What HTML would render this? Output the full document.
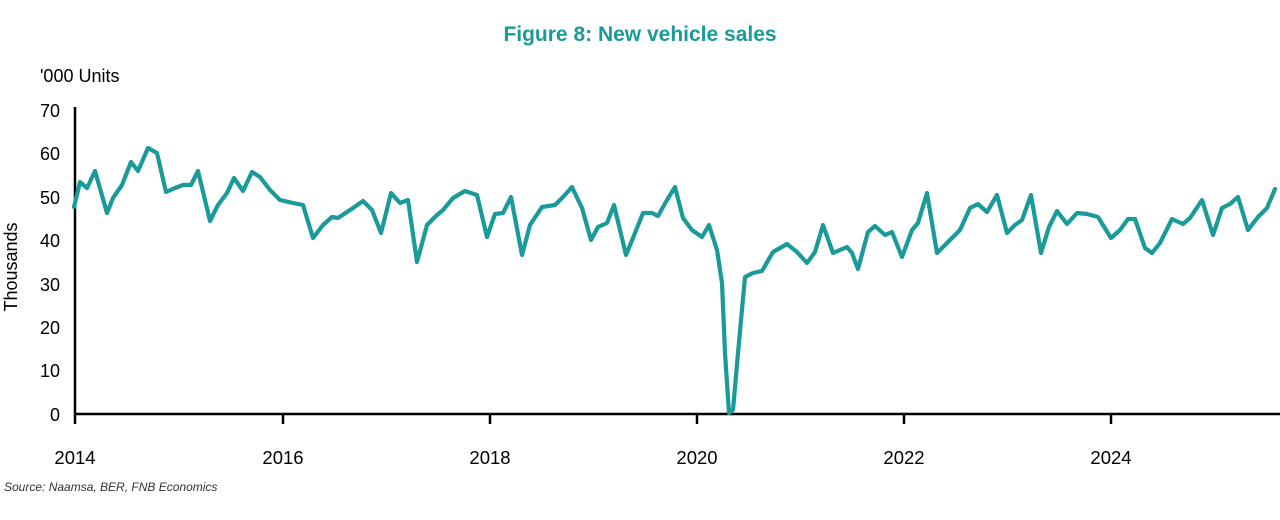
<!DOCTYPE html>
<html><head><meta charset="utf-8"><style>
html,body{margin:0;padding:0;background:#fff;width:1280px;height:520px;overflow:hidden}
text{font-family:"Liberation Sans",sans-serif}
</style></head><body>
<svg width="1280" height="520" viewBox="0 0 1280 520">
<text x="640" y="41" text-anchor="middle" font-size="21" font-weight="bold" fill="#1a9a98">Figure 8: New vehicle sales</text>
<text x="40" y="82" font-size="18" fill="#000">'000 Units</text>
<text transform="translate(17,267) rotate(-90)" text-anchor="middle" font-size="18" fill="#000">Thousands</text>
<g font-size="18" fill="#000" text-anchor="end">
<text x="60" y="421">0</text><text x="60" y="377">10</text><text x="60" y="334">20</text><text x="60" y="291">30</text><text x="60" y="247">40</text><text x="60" y="204">50</text><text x="60" y="160">60</text><text x="60" y="117">70</text>
</g>
<g font-size="18.5" fill="#000" text-anchor="middle">
<text x="75" y="464">2014</text><text x="283" y="464">2016</text><text x="490" y="464">2018</text><text x="697" y="464">2020</text><text x="904" y="464">2022</text><text x="1111" y="464">2024</text>
</g>
<g stroke="#000" stroke-width="2.5" fill="none">
<line x1="75" y1="107" x2="75" y2="424"/>
<line x1="74" y1="414" x2="1280" y2="414"/>
<line x1="283" y1="414" x2="283" y2="424"/><line x1="490" y1="414" x2="490" y2="424"/><line x1="697" y1="414" x2="697" y2="424"/><line x1="904" y1="414" x2="904" y2="424"/><line x1="1111" y1="414" x2="1111" y2="424"/>
</g>
<polyline fill="none" stroke="#1a9a98" stroke-width="4.2" stroke-linejoin="round" stroke-linecap="round" points="74,207 80,182 87,188 95,171 107,213 113,198 122,185 131,162 138,171 148,148 157,153 166,192 175,188 183,185 191,185 198,171 210,221 218,205 227,193 234,178 243,191 252,172 260,177 270,190 280,200 293,203 303,205 313,238 323,225 332,217 338,218 353,208 363,201 372,210 381,233 391,193 400,203 408,200 417,262 427,225 437,215 443,210 453,198 465,191 477,195 487,237 495,214 503,213 511,197 522,255 530,225 542,207 555,205 563,197 572,187 582,208 591,240 598,227 607,223 614,205 626,255 635,233 643,213 652,213 658,216 667,200 675,187 683,218 692,230 702,237 709,225 717,250 722,283 725,353 729,413 733,410 738,353 745,277 753,273 762,271 773,252 787,244 797,252 807,263 815,252 823,225 833,253 847,247 852,253 858,269 868,232 875,226 885,235 892,232 902,257 912,230 918,223 927,193 937,253 947,243 960,230 970,208 978,204 987,212 997,195 1007,233 1015,225 1022,220 1031,195 1041,253 1049,227 1057,211 1067,224 1077,213 1087,214 1098,217 1111,238 1120,230 1128,219 1135,219 1145,248 1152,253 1160,243 1172,219 1183,224 1190,218 1202,200 1213,235 1222,208 1230,204 1238,197 1248,230 1258,217 1267,208 1275,189"/>
<text x="4" y="491" font-size="12" font-style="italic" fill="#333">Source: Naamsa, BER, FNB Economics</text>
</svg>
</body></html>
